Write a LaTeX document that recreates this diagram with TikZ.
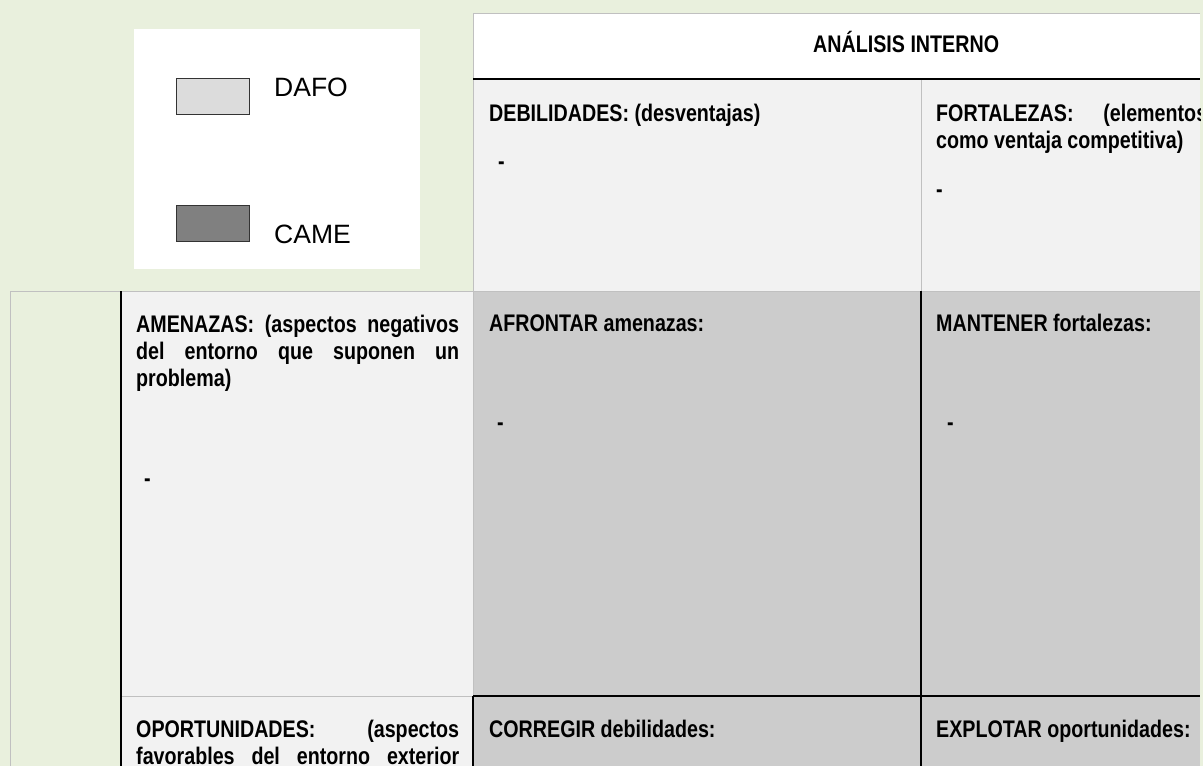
\documentclass[tikz,border=0pt]{standalone}
\usepackage{fontspec}
\setmainfont{Liberation Sans}
\newfontfamily\narrowbf[FakeStretch=0.82]{Liberation Sans}
\usepackage{tikz}

\definecolor{bggreen}{RGB}{233,240,221}
\definecolor{dafofill}{RGB}{242,242,242}
\definecolor{camefill}{RGB}{204,204,204}
\definecolor{gridgray}{RGB}{192,192,192}
\definecolor{legdafo}{RGB}{220,220,220}
\definecolor{legcame}{RGB}{128,128,128}

\begin{document}
\begin{tikzpicture}
		[x=1pt,y=-1pt,every node/.style={inner sep=0pt,anchor=base west},
		txt/.style={font=\narrowbf\bfseries\fontsize{24}{27}\selectfont},
		legtext/.style={font=\fontsize{26.5}{30}\selectfont},
		legbox/.style={draw=black!80,line width=1.2pt,minimum width=73pt,minimum height=36pt,anchor=center},
		gridline/.style={draw=gridgray,line width=1pt},
		boldline/.style={draw=black,line width=2pt}]
		\fill[bggreen] (0,0) rectangle (1203,766);
		\useasboundingbox (0,0) rectangle (1203,766);
		
		% legend
		\fill[white] (134,29) rectangle (420,269);
		\node[legbox,fill=legdafo] (dafobox) at (213,96.5) {};
		\node[legbox,fill=legcame] (camebox) at (213,223.5) {};
		\node[legtext] (dafo) at (274,96) {DAFO};
		\node[legtext] (came) at (274,243) {CAME};
		
		\begin{scope}
		\clip (0,0) rectangle (1200,766);
		% cells
		\fill[white] (473,13) rectangle (1200,79);
		\fill[dafofill] (473,79) rectangle (1200,291);
		\fill[dafofill] (121,291) rectangle (473,766);
		\fill[camefill] (473,291) rectangle (1200,766);
		
		\draw[gridline] (473,13) -- (1200,13);
		\draw[gridline] (473,13) -- (473,291);
		\draw[gridline] (921,79) -- (921,291);
		\draw[gridline] (10,291) -- (1200,291);
		\draw[gridline] (10,291) -- (10,766);
		\draw[gridline] (121,696) -- (473,696);
		\draw[gridline] (473,291) -- (473,696);
		\draw[boldline] (473,79) -- (1200,79);
		\draw[boldline] (121,291) -- (121,766);
		\draw[boldline] (921,291) -- (921,766);
		\draw[boldline] (473,696) -- (1200,696);
		\draw[boldline] (473,696) -- (473,766);
		
		% texts
		\node[txt] (analisis) at (813,52) {ANÁLISIS INTERNO};
		\node[txt] (debil) at (489,121) {DEBILIDADES: (desventajas)};
		\node[txt] (fort1) at (936,121) {\makebox[271pt][s]{FORTALEZAS: (elementos}};
		\node[txt] (fort2) at (936,148) {como ventaja competitiva)};
		\node[txt] (amen1) at (136,332) {\makebox[323pt][s]{AMENAZAS: (aspectos negativos}};
		\node[txt] (amen2) at (136,359) {\makebox[323pt][s]{del entorno que suponen un}};
		\node[txt] (amen3) at (136,386) {problema)};
		\node[txt] (afrontar) at (489,331) {AFRONTAR amenazas:};
		\node[txt] (mantener) at (936,331) {MANTENER fortalezas:};
		\node[txt] (oport1) at (136,737) {\makebox[323pt][s]{OPORTUNIDADES: (aspectos}};
		\node[txt] (oport2) at (136,764) {\makebox[323pt][s]{favorables del entorno exterior}};
		\node[txt] (corregir) at (489,737) {CORREGIR debilidades:};
		\node[txt] (explotar) at (936,737) {EXPLOTAR oportunidades:};
		
		\foreach \x/\y [count=\i] in {498/169,936/197,144/486,497/430,947/430}
		\node[txt] (dash\i) at (\x,\y) {-};
		\end{scope}
\end{tikzpicture}
\end{document}
